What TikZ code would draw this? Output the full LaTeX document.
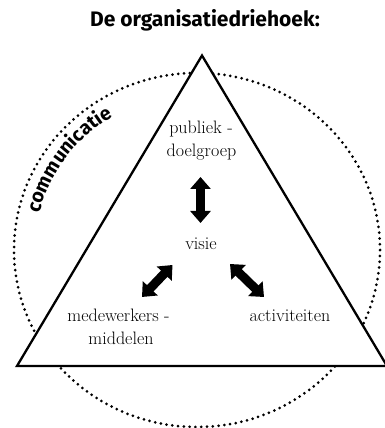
\documentclass[tikz,border=0pt]{standalone}
\usepackage{fontspec}
\newfontfamily\headfont{Fira Sans}
\usetikzlibrary{arrows.meta,decorations.text}

\tikzset{
  ring/.style={line width=3pt, dash pattern=on 0pt off 5.8pt, line cap=round},
  tri/.style={line width=2.3pt, fill=white, line join=miter},
  label/.style={anchor=base, inner sep=0pt, font=\fontsize{18}{21}\selectfont},
  heading/.style={anchor=base, inner sep=0pt, font=\headfont\bfseries\fontsize{21}{24}\selectfont},
  link/.style={line width=9pt,
    {Triangle[width=20pt,length=12pt]}-{Triangle[width=20pt,length=12pt]}}
}

\begin{document}
\begin{tikzpicture}[x=1pt,y=1pt]
  \useasboundingbox (0,0) rectangle (385,428);

  % dotted communication ring
  \coordinate (ringc) at (197,178);
  \draw[ring] (ringc) ellipse [x radius=183, y radius=177];

  % curved ring label
  \path[decorate, decoration={text along path,
      text={|\headfont\bfseries\fontsize{19.5}{22}\selectfont|communicatie},
      text align=center}]
    (ringc) ++(174:162 and 156) arc [start angle=174, end angle=114, x radius=162, y radius=156];

  % the triangle
  \coordinate (top) at (202,372.5);
  \coordinate (left) at (17,62);
  \coordinate (right) at (387,62);
  \draw[tri] (top) -- (left) -- (right) -- cycle;

  % heading
  \node[heading] (title) at (205,401) {De organisatiedriehoek:};

  % corner labels
  \node[label] (pub1) at (201,294.5) {publiek -};
  \node[label] (pub2) at (201.5,271.5) {doelgroep};
  \node[label] (vis) at (201,178) {visie};
  \node[label] (med1) at (118.5,106) {medewerkers -};
  \node[label] (med2) at (121,83) {middelen};
  \node[label] (act) at (290,106) {activiteiten};

  % arrow ends
  \coordinate (a1) at (200.5,251);
  \coordinate (a2) at (200.5,205);
  \coordinate (b1) at (142,131);
  \coordinate (b2) at (172.5,163);
  \coordinate (c1) at (230,164);
  \coordinate (c2) at (264,131);

  \draw[link] (a1) -- (a2);
  \draw[link] (b1) -- (b2);
  \draw[link] (c1) -- (c2);
\end{tikzpicture}
\end{document}
